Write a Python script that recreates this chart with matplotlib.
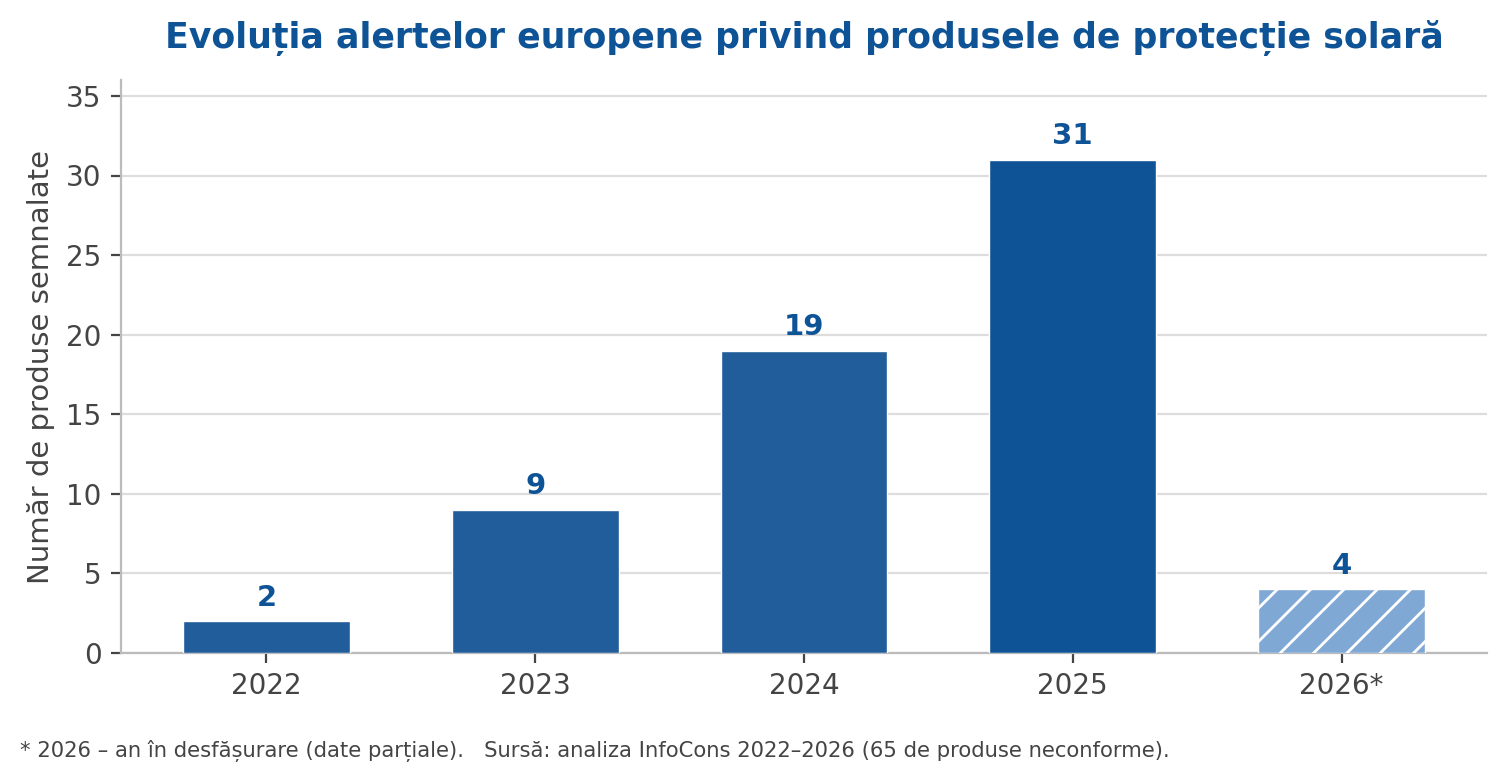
import matplotlib
matplotlib.use("Agg")
import matplotlib.pyplot as plt

years = ["2022", "2023", "2024", "2025", "2026*"]
values = [2, 9, 19, 31, 4]
colors = ["#215d9a", "#215d9a", "#215d9a", "#0e5396", "#80a8d4"]
hatches = ["", "", "", "", "//"]

plt.rcParams['font.family'] = ['DejaVu Sans']
plt.rcParams['hatch.color'] = 'white'
plt.rcParams['hatch.linewidth'] = 1.0

fig = plt.figure(figsize=(7.535, 3.915), dpi=200)
ax = fig.add_axes([121/1507, 1-653/783, (1487-121)/1507, (653-80)/783])

x = list(range(len(years)))
bars = ax.bar(x, values, width=0.62, color=colors, edgecolor='white', linewidth=0.5, zorder=3)
for b, h in zip(bars, hatches):
    if h:
        b.set_hatch(h)

for xi, v in zip(x, values):
    ax.text(xi, v + 0.6, str(v), ha='center', va='bottom', fontsize=10.5,
            fontweight='bold', color='#0e5396')

ax.set_xticks(x)
ax.set_xticklabels(years)
ax.set_ylim(0, 36)
ax.set_yticks(range(0, 36, 5))
ax.grid(axis='y', color='#dddddd', linewidth=0.8, zorder=0)
ax.set_axisbelow(True)
for s in ['top', 'right']:
    ax.spines[s].set_visible(False)
for s in ['left', 'bottom']:
    ax.spines[s].set_color('#bbbbbb')
    ax.spines[s].set_linewidth(0.8)
ax.tick_params(colors='#444444', labelsize=10)
ax.tick_params(axis='both', color='#444444', length=3.5, width=0.8)
ax.set_ylabel("Număr de produse semnalate", fontsize=10.5, color='#444444')
ax.set_title("Evoluția alertelor europene privind produsele de protecție solară",
             fontsize=12.5, fontweight='bold', color='#0e5396', pad=11.5)

fig.text(20/1507, 1-751/783,
         "* 2026 – an în desfășurare (date parțiale).   Sursă: analiza InfoCons 2022–2026 (65 de produse neconforme).",
         fontsize=7.6, color='#444444', va='center', ha='left')

fig.savefig("out.png", dpi=200)
